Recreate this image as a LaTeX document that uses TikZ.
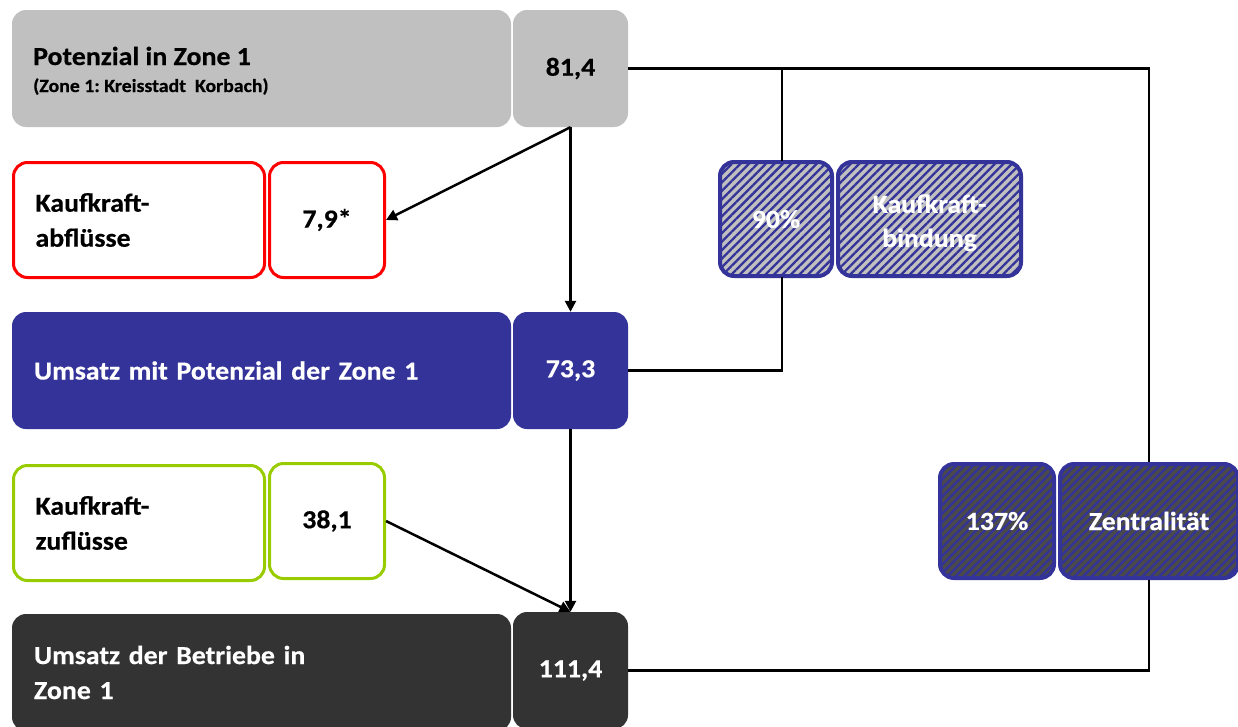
\documentclass[tikz,border=0pt]{standalone}
\usepackage{fontspec}
\setmainfont{Carlito}[FakeStretch=1.07, BoldFeatures={FakeBold=0.5}]
\frenchspacing
\usetikzlibrary{patterns.meta,arrows.meta}
\definecolor{boxgray}{HTML}{C0C0C0}
\definecolor{navy}{HTML}{333399}
\definecolor{darkbox}{HTML}{333333}
\definecolor{lime}{HTML}{99CC00}
\definecolor{hatchdark}{HTML}{4A4A4A}
\begin{document}
\begin{tikzpicture}[x=1pt,y=-1pt,
  box/.style={rectangle, rounded corners=14pt, inner sep=0pt, font=\fontsize{26}{35}\selectfont\bfseries},
  lbox/.style={box, minimum height=#1, text width=455pt, inner xsep=22pt, align=left},
  sbox/.style={box, minimum height=115pt, text width=207pt, inner xsep=22pt, align=left},
  vbox/.style={box, minimum width=#1, minimum height=115pt, align=center},
  lbl/.style={inner sep=0pt, anchor=base west},
  hatch/.style={box, line width=4pt, draw=navy, text=white, align=center,
     preaction={fill=#1}, pattern={Lines[angle=45,distance=6pt,line width=2.3pt]}, pattern color=navy},
  conn/.style={line width=2.5pt, draw=black},
  arr/.style={conn, -{Triangle[length=11pt,width=11pt]}}
]
\useasboundingbox (0,0) rectangle (1238,726);
\clip (0,0) rectangle (1238,726);

% row 1
\node[lbox=117pt, fill=boxgray] (pot) at (261.5,68.5) {};
\node[lbl, font=\fontsize{26}{30}\selectfont\bfseries] (pott) at (33,65) {Potenzial in Zone 1};
\node[lbl, font=\fontsize{18.5}{22}\selectfont\bfseries] (pots) at (33,92) {(Zone 1: Kreisstadt\ \ Korbach)};
\node[vbox=115pt, minimum height=117pt, fill=boxgray] (potv) at (570.5,68.5) {81,4};

% row 2
\node[sbox, draw=red, line width=3pt] (abf) at (139,220) {Kaufkraft-\\abflüsse};
\node[vbox=115pt, draw=red, line width=3pt] (abfv) at (327,220) {7,9*};

% row 3
\node[lbox=117pt, fill=navy, text=white] (ums) at (261.5,370.5) {Umsatz mit Potenzial der Zone 1};
\node[vbox=115pt, minimum height=117pt, fill=navy, text=white] (umsv) at (570.5,370.5) {73,3};

% row 4
\node[sbox, draw=lime, line width=3pt] (zuf) at (139,523) {Kaufkraft-\\zuflüsse};
\node[vbox=115pt, draw=lime, line width=3pt] (zufv) at (327,521) {38,1};

% row 5
\node[lbox=117pt, fill=darkbox, text=white] (bet) at (261.5,672.5) {Umsatz der Betriebe in\\Zone 1};
\node[vbox=115pt, minimum height=117pt, fill=darkbox, text=white] (betv) at (570.5,670.5) {111,4};

% hatched boxes
\node[hatch=boxgray, minimum width=112pt, minimum height=114pt] (b90) at (776,219) {90\%};
\node[hatch=boxgray, minimum width=183pt, minimum height=114pt, font=\fontsize{26}{34}\selectfont\bfseries] (bind) at (929.5,219)
  {\raisebox{-4pt}[\height][\depth]{\begin{tabular}{@{}c@{}}Kaufkraft-\\bindung\end{tabular}}};
\node[hatch=hatchdark, minimum width=114pt, minimum height=114pt] (z137) at (997,521) {137\%};
\node[hatch=hatchdark, minimum width=178pt, minimum height=114pt] (zen) at (1149,521) {Zentralität};

% connectors
\draw[conn] (potv.east) -| (zen.north);
\draw[conn] (zen.south) |- (betv.east);
\draw[conn] ([xshift=6pt]b90.north) -- ([xshift=6pt]b90.north |- potv.east);
\draw[conn] ([xshift=6pt]b90.south) |- (umsv.east);

% arrows
\draw[arr] (potv.south) -- (abfv.east);
\draw[arr] (potv.south) -- (umsv.north);
\draw[arr] (umsv.south) -- (betv.north);
\draw[arr] (zufv.east) -- (betv.north);
\end{tikzpicture}
\end{document}
